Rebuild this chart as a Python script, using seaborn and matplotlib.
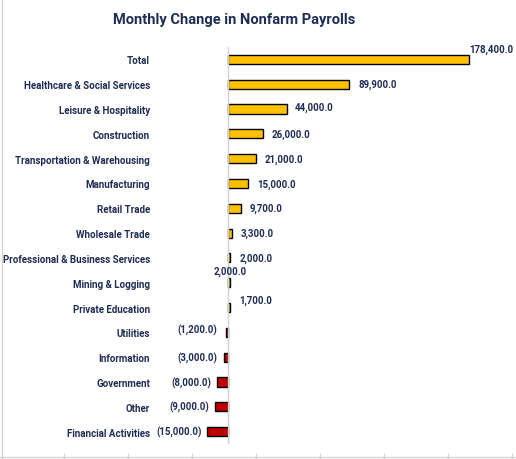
import matplotlib

matplotlib.use("Agg")

import matplotlib.pyplot as plt
import seaborn as sns
from matplotlib.lines import Line2D

CATEGORIES = [
    "Total",
    "Healthcare & Social Services",
    "Leisure & Hospitality",
    "Construction",
    "Transportation & Warehousing",
    "Manufacturing",
    "Retail Trade",
    "Wholesale Trade",
    "Professional & Business Services",
    "Mining & Logging",
    "Private Education",
    "Utilities",
    "Information",
    "Government",
    "Other",
    "Financial Activities",
]
CHANGES = [
    178400, 89900, 44000, 26000, 21000, 15000, 9700, 3300,
    2000, 2000, 1700, -1200, -3000, -8000, -9000, -15000,
]
TITLE = "Monthly Change in Nonfarm Payrolls"

POS_COLOR = "#FFC000"
NEG_COLOR = "#C00000"
TEXT_COLOR = "#1F2D55"

# label nudges in pixels (dx, dy, ha); Excel placed a few labels off-centre
LABEL_STYLE = {
    "Total": (0, 11, "left"),
    "Leisure & Hospitality": (8, 2, "left"),
    "Mining & Logging": (0, 12, "center"),
    "Private Education": (9, 8, "left"),
    "Utilities": (-9, 3, "right"),
}

sns.set_theme(style="white")
plt.rcParams["font.family"] = ["Liberation Sans Narrow", "Roboto", "DejaVu Sans"]

DPI = 100
px = 72 / DPI
fig = plt.figure(figsize=(5.16, 4.60), dpi=DPI)
ax = fig.add_axes([160 / 516, 1 - 445 / 460, 338 / 516, 397 / 460])

colors = [POS_COLOR if v >= 0 else NEG_COLOR for v in CHANGES]
sns.barplot(
    x=CHANGES, y=CATEGORIES, hue=CATEGORIES, palette=colors, legend=False,
    orient="h", width=0.37, saturation=1, edgecolor="black", linewidth=1.0, ax=ax,
)

ax.set_xlim(-50000, 200000)
ax.axvline(0, color="#D0D0D0", linewidth=1.0, zorder=3)
ax.set_xticks([])
ax.set_xlabel("")
ax.set_ylabel("")
for spine in ax.spines.values():
    spine.set_visible(False)
ax.tick_params(axis="y", length=0, pad=10 * px)
for lab in ax.get_yticklabels():
    lab.set_fontweight("bold")
    lab.set_fontsize(7)
    lab.set_color(TEXT_COLOR)

for i, (cat, val) in enumerate(zip(CATEGORIES, CHANGES)):
    if val >= 0:
        text = f"{val:,.1f}"
        dx, dy, ha = LABEL_STYLE.get(cat, (9, 0, "left"))
    else:
        text = f"({-val:,.1f})"
        dx, dy, ha = LABEL_STYLE.get(cat, (-6, 0, "right"))
    ax.annotate(
        text, (val, i), xytext=(dx * px, dy * px), textcoords="offset points",
        ha=ha, va="center", fontsize=7, fontweight="bold", color=TEXT_COLOR,
    )

fig.text(234 / 516, 1 - 20 / 460, TITLE, ha="center", va="center",
         fontsize=10.5, fontweight="bold", color=TEXT_COLOR)

# spreadsheet cell borders around the chart object
grid = "#D4D4D4"
fig.add_artist(Line2D([2 / 516, 2 / 516], [0, 1], color=grid, linewidth=1))
fig.add_artist(Line2D([0, 1], [2 / 460, 2 / 460], color=grid, linewidth=1))
for xpix in [64, 128, 192, 256, 320, 384, 448, 512]:
    fig.add_artist(Line2D([xpix / 516] * 2, [0, 5 / 460], color=grid, linewidth=1))

fig.savefig("out.png", dpi=DPI, facecolor="white")
